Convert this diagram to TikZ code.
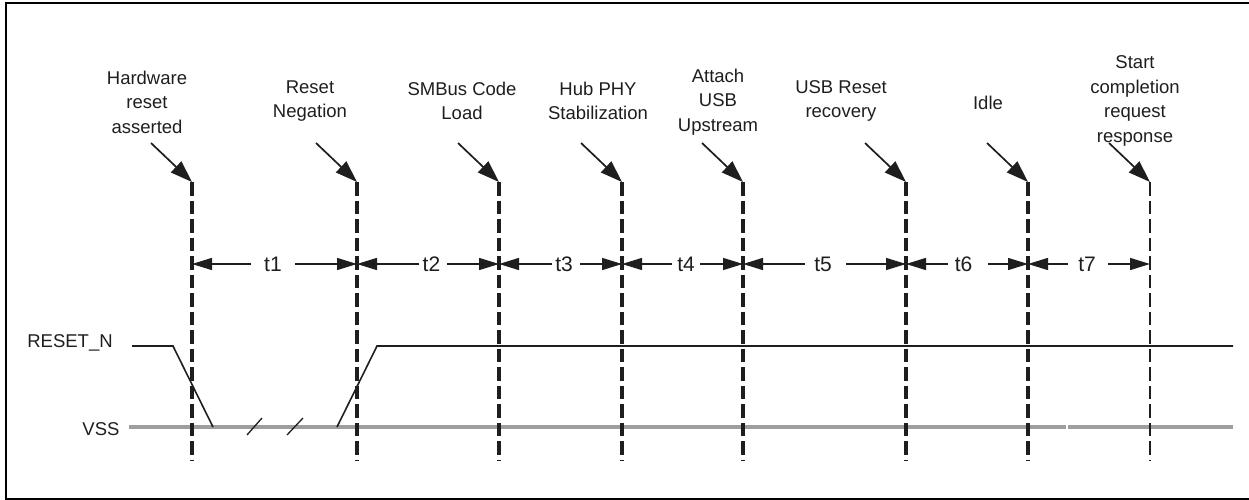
\documentclass[tikz,border=0pt]{standalone}
\usepackage{fontspec}
\setmainfont{Liberation Sans}
\usetikzlibrary{arrows.meta}
\definecolor{vssgray}{RGB}{158,158,158}
\definecolor{ink}{RGB}{30,30,30}
\tikzset{
  lbl/.style={align=center, inner sep=0pt, text=ink, font=\fontsize{18.5}{24.5}\selectfont},
  tlbl/.style={inner sep=0pt, text=ink, font=\fontsize{21}{24}\selectfont},
  pointer/.style={draw=ink, line width=1.7pt, -{Triangle[length=22pt,width=15pt]}},
  tarrow/.style={draw=ink, line width=1.5pt, -{Triangle[length=20pt,width=12pt]}, shorten <=#1},
  marker/.style={draw=ink, line width=3.4pt, dash pattern=on 13.5pt off 5pt},
  thinmarker/.style={draw=ink, line width=2.2pt, dash pattern=on 13.5pt off 5pt},
  sig/.style={draw=ink, line width=1.6pt},
  vss/.style={draw=vssgray, line width=3.2pt},
  brk/.style={draw=ink, line width=1.3pt},
  frame/.style={draw=black, line width=2pt}
}
\begin{document}
\begin{tikzpicture}[x=1pt,y=-1pt]
\useasboundingbox (0,0) rectangle (1249,500);
% frame (right side open)
\draw[frame] (1249,3.5) -- (6,3.5) -- (6,498.5) -- (1249,498.5);

% marker positions
\foreach \i/\x in {1/192,2/357,3/499,4/622,5/743,6/906,7/1028,8/1150}{
  \coordinate (top\i) at (\x,182);
  \coordinate (bot\i) at (\x,460);
  \coordinate (mid\i) at (\x,264);
  \coordinate (src\i) at (\x-41,143);
}

% event labels
\node[lbl] (lab1) at (147,102) {Hardware\\reset\\asserted};
\node[lbl] (lab2) at (310,101) {Reset\\Negation};
\node[lbl] (lab3) at (462,101) {SMBus Code\\Load};
\node[lbl] (lab4) at (598,101) {Hub PHY\\Stabilization};
\node[lbl] (lab5) at (718,102) {Attach\\USB\\Upstream};
\node[lbl] (lab6) at (841,101) {USB Reset\\recovery};
\node[lbl] (lab7) at (988,103) {Idle};
\node[lbl] (lab8) at (1135,101) {Start\\completion\\request\\response};

% signal labels
\node[lbl, anchor=center] (rn) at (70,343) {RESET\_N};
\node[lbl, anchor=center] (vssl) at (101,429) {VSS};

% VSS line
\coordinate (v0) at (129,427);
\coordinate (v1) at (1066,427);
\coordinate (v2) at (1068,427);
\coordinate (v3) at (1233,427);
\draw[vss] (v0) -- (v1);
\draw[vss] (v2) -- (v3);

% RESET_N waveform
\coordinate (r0) at (132,346);
\coordinate (r1) at (173,346);
\coordinate (r2) at (213,427);
\coordinate (r3) at (337,427);
\coordinate (r4) at (377,346);
\coordinate (r5) at (1233,346);
\draw[sig] (r0) -- (r1) -- (r2);
\draw[sig] (r3) -- (r4) -- (r5);

% break marks
\coordinate (b1a) at (247,435); \coordinate (b1b) at (262,418);
\coordinate (b2a) at (287,435); \coordinate (b2b) at (303,418);
\draw[brk] (b1a) -- (b1b);
\draw[brk] (b2a) -- (b2b);

% dashed markers
\foreach \i in {1,...,7}{ \draw[marker] (top\i) -- (bot\i); }
\draw[thinmarker] (top8) -- (bot8);

% pointers
\foreach \i in {1,...,8}{ \draw[pointer] (src\i) -- (top\i); }

% timing labels
\node[tlbl] (t1) at (273,264) {t1};
\node[tlbl] (t2) at (431.5,264) {t2};
\node[tlbl] (t3) at (564,264) {t3};
\node[tlbl] (t4) at (686,264) {t4};
\node[tlbl] (t5) at (823,264) {t5};
\node[tlbl] (t6) at (963.5,264) {t6};
\node[tlbl] (t7) at (1087,264) {t7};

\draw[tarrow=22pt] (t1.center) -- (mid1);
\draw[tarrow=22pt] (t1.center) -- (mid2);
\draw[tarrow=12.5pt] (t2.center) -- (mid2);
\draw[tarrow=15.5pt] (t2.center) -- (mid3);
\draw[tarrow=12pt] (t3.center) -- (mid3);
\draw[tarrow=16pt] (t3.center) -- (mid4);
\draw[tarrow=14pt] (t4.center) -- (mid4);
\draw[tarrow=14pt] (t4.center) -- (mid5);
\draw[tarrow=18pt] (t5.center) -- (mid5);
\draw[tarrow=23pt] (t5.center) -- (mid6);
\draw[tarrow=15.5pt] (t6.center) -- (mid6);
\draw[tarrow=24.5pt] (t6.center) -- (mid7);
\draw[tarrow=19pt] (t7.center) -- (mid7);
\draw[tarrow=21pt] (t7.center) -- (mid8);
\end{tikzpicture}
\end{document}
